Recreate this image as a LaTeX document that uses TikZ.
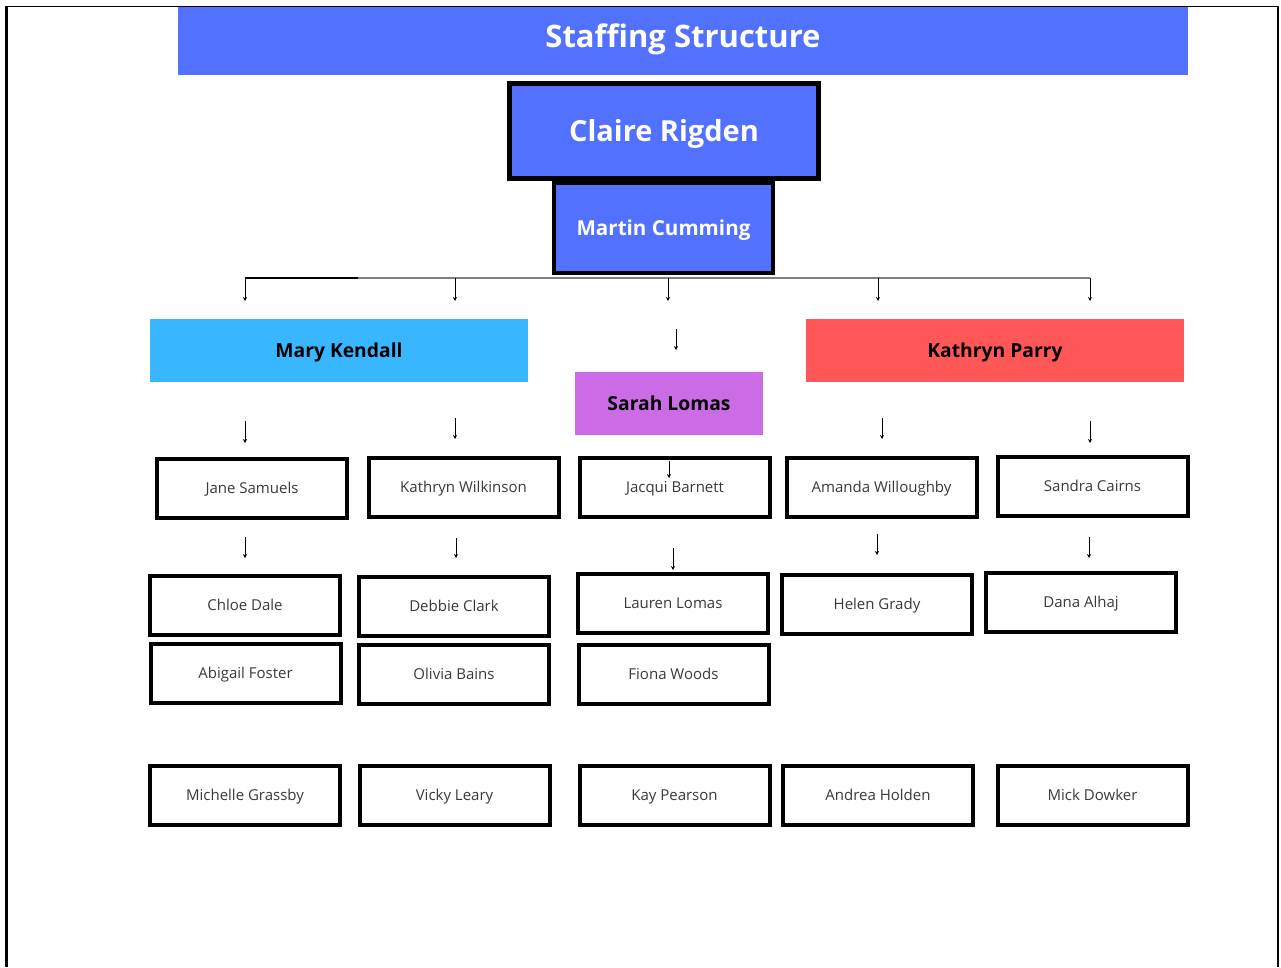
\documentclass[tikz,border=0pt]{standalone}
\usepackage{fontspec}
\setmainfont{Open Sans}
\usetikzlibrary{arrows.meta}
\definecolor{chartblue}{HTML}{5271FF}
\definecolor{maryblue}{HTML}{38B6FF}
\definecolor{parryred}{HTML}{FF5757}
\definecolor{sarahpink}{HTML}{CB6CE6}
\definecolor{staffgray}{HTML}{3A3A3A}
\definecolor{busgray}{HTML}{808080}

\begin{document}
\begin{tikzpicture}[x=1pt,y=-1pt]
      \tikzset{banner/.style={fill=chartblue, text=white, inner sep=0pt,
          text height=22pt, text depth=9pt,
          font=\bfseries\fontsize{31}{35}\selectfont},
        boss/.style={fill=chartblue, draw=black, text=white, inner sep=0pt},
        lead/.style={fill=#1, text=black, inner sep=0pt, minimum height=63,
          text height=14pt, text depth=0pt,
          font=\bfseries\fontsize{19.3}{23}\selectfont},
        staff/.style={draw=black, line width=4pt, fill=white, inner sep=0pt,
          minimum width=190, minimum height=59, text=staffgray,
          text height=10.7pt, text depth=0pt,
          font=\fontsize{15}{18}\selectfont},
        link/.style={line width=1pt, -{Stealth[length=4pt,width=4pt]}}
      }
      \useasboundingbox (0,0) rectangle (1281,967);
      \draw [line width=3pt] (6.5,967) -- (6.5,6);
      \draw [line width=1.2pt] (5,6.5) -- (1279,6.5);
      \draw [line width=2.5pt] (1278,6) -- (1278,967);

      \node [banner, minimum width=1010, minimum height=68] (title) at (683,41) {Staffing Structure};
      \node [boss, line width=4pt, minimum width=219, minimum height=90,
        text height=15pt, text depth=0pt,
        font=\bfseries\fontsize{20.6}{25}\selectfont] (martin) at (663.5,228) {Martin Cumming};
      \node [boss, line width=5pt, minimum width=309, minimum height=95,
        text height=21pt, text depth=0pt,
        font=\bfseries\fontsize{29}{33}\selectfont] (claire) at (664,131) {Claire Rigden};

      \node [lead=maryblue, minimum width=378] (mary) at (339,350.5) {Mary Kendall};
      \node [lead=parryred, minimum width=378] (parry) at (995,350.5) {Kathryn Parry};
      \node [lead=sarahpink, minimum width=188] (sarah) at (669,403.5) {Sarah Lomas};

      \node [staff] (jane) at (252,488.5) {Jane Samuels};
      \node [staff] (wilkinson) at (463.5,487.5) {Kathryn Wilkinson};
      \node [staff] (jacqui) at (675,487.5) {Jacqui Barnett};
      \node [staff] (amanda) at (881.5,487.5) {Amanda Willoughby};
      \node [staff] (sandra) at (1092.5,486.5) {Sandra Cairns};

      \node [staff] (chloe) at (245,605) {Chloe Dale};
      \node [staff] (debbie) at (454,606.5) {Debbie Clark};
      \node [staff] (lauren) at (673,603) {Lauren Lomas};
      \node [staff] (helen) at (877,604.5) {Helen Grady};
      \node [staff] (dana) at (1081,602) {Dana Alhaj};

      \node [staff] (abigail) at (245.5,673) {Abigail Foster};
      \node [staff] (olivia) at (454,674) {Olivia Bains};
      \node [staff] (fiona) at (673.5,674) {Fiona Woods};

      \node [staff] (michelle) at (245,795) {Michelle Grassby};
      \node [staff] (vicky) at (454.5,795) {Vicky Leary};
      \node [staff] (kay) at (674.5,795) {Kay Pearson};
      \node [staff] (andrea) at (878,795) {Andrea Holden};
      \node [staff] (mick) at (1092.5,795) {Mick Dowker};

      \coordinate (busL) at (245,278);
      \coordinate (busK) at (358,278);
      \coordinate (busR) at (1090,278);
      \draw [busgray, line width=1.2pt] (busK) -- (busR);
      \draw [line width=1.2pt] (busL) -- (busK);

      \foreach \n/\x/\ya/\yb in {1/245/278/301, 2/455/278/301, 3/668/278/301, 4/878/278/301,
          5/1090/278/301, 6/676/329/350, 7/245/421/443, 8/455/418/439, 9/882/418/439,
          10/1090/421/443, 11/669/461/478, 12/245/537/558, 13/456/538/558, 14/673/548/570,
          15/877/534/555, 16/1089/537/558} {
        \coordinate (from\n) at (\x,\ya);
        \coordinate (to\n) at (\x,\yb);
        \draw [link] (from\n) -- (to\n);
      }
    \end{tikzpicture}
\end{document}
